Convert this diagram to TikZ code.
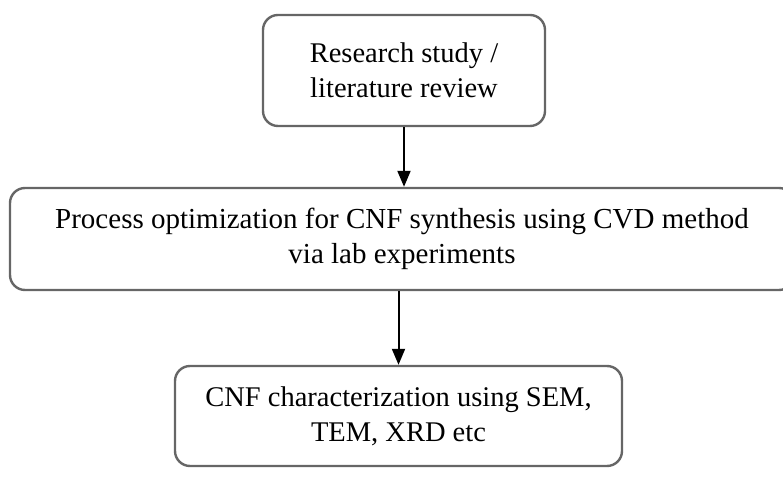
\documentclass[tikz,border=0pt]{standalone}
\usepackage{fontspec}
\setmainfont{Liberation Serif}
\usetikzlibrary{arrows.meta}
\tikzset{
  flowbox/.style={draw=black!60, line width=2.4pt, rounded corners=15pt,
    align=center, inner sep=0pt, font=\fontsize{28.5}{35}\selectfont},
  flowarrow/.style={draw=black, line width=2pt, -{Triangle[length=16pt,width=13pt]}}
}
\begin{document}
\begin{tikzpicture}[x=1pt,y=1pt]
\useasboundingbox (0,0) rectangle (783,481);
\clip (0,0) rectangle (783,481);
\node[flowbox, minimum width=282pt, minimum height=111pt] (b1) at (404,410.5)
  {Research study /\\literature review};
\node[flowbox, minimum width=784pt, minimum height=102pt,
  font=\fontsize{29}{35}\selectfont] (b2) at (402,242)
  {Process optimization for CNF synthesis using CVD method\\via lab experiments};
\node[flowbox, minimum width=447pt, minimum height=100pt] (b3) at (398.5,65)
  {CNF characterization using SEM,\\TEM, XRD etc};
\draw[flowarrow] (b1.south) -- (b1.south |- b2.north);
\draw[flowarrow] (b2.south -| b3.north) -- (b3.north);
\end{tikzpicture}
\end{document}
